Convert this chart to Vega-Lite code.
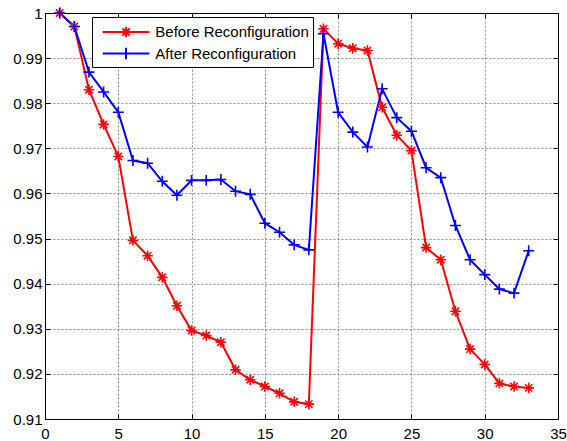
{
  "$schema": "https://vega.github.io/schema/vega-lite/v6.json",
  "width": 513,
  "height": 406,
  "autosize": {"type": "none"},
  "padding": {"left": 45, "top": 13, "right": 9, "bottom": 22},
  "background": "white",
  "config": {
    "view": {"stroke": "black", "strokeWidth": 1},
    "font": "Liberation Sans",
    "axis": {
      "labelFont": "Liberation Sans",
      "labelFontSize": 15,
      "labelColor": "black",
      "domainColor": "black",
      "tickColor": "black",
      "tickSize": -5,
      "gridColor": "#8a8a8a",
      "gridDash": [2, 2],
      "gridWidth": 1,
      "labelFlush": false,
      "labelOverlap": false,
      "title": null
    }
  },
  "data": {
    "values": [
      {"x": 1, "v": 1.0, "s": "Before Reconfiguration"},
      {"x": 2, "v": 0.997, "s": "Before Reconfiguration"},
      {"x": 3, "v": 0.983, "s": "Before Reconfiguration"},
      {"x": 4, "v": 0.9753, "s": "Before Reconfiguration"},
      {"x": 5, "v": 0.9682, "s": "Before Reconfiguration"},
      {"x": 6, "v": 0.9496, "s": "Before Reconfiguration"},
      {"x": 7, "v": 0.9462, "s": "Before Reconfiguration"},
      {"x": 8, "v": 0.9414, "s": "Before Reconfiguration"},
      {"x": 9, "v": 0.9351, "s": "Before Reconfiguration"},
      {"x": 10, "v": 0.9296, "s": "Before Reconfiguration"},
      {"x": 11, "v": 0.9285, "s": "Before Reconfiguration"},
      {"x": 12, "v": 0.927, "s": "Before Reconfiguration"},
      {"x": 13, "v": 0.9209, "s": "Before Reconfiguration"},
      {"x": 14, "v": 0.9187, "s": "Before Reconfiguration"},
      {"x": 15, "v": 0.9172, "s": "Before Reconfiguration"},
      {"x": 16, "v": 0.9157, "s": "Before Reconfiguration"},
      {"x": 17, "v": 0.9138, "s": "Before Reconfiguration"},
      {"x": 18, "v": 0.9133, "s": "Before Reconfiguration"},
      {"x": 19, "v": 0.9965, "s": "Before Reconfiguration"},
      {"x": 20, "v": 0.9932, "s": "Before Reconfiguration"},
      {"x": 21, "v": 0.9922, "s": "Before Reconfiguration"},
      {"x": 22, "v": 0.9917, "s": "Before Reconfiguration"},
      {"x": 23, "v": 0.9791, "s": "Before Reconfiguration"},
      {"x": 24, "v": 0.9729, "s": "Before Reconfiguration"},
      {"x": 25, "v": 0.9695, "s": "Before Reconfiguration"},
      {"x": 26, "v": 0.948, "s": "Before Reconfiguration"},
      {"x": 27, "v": 0.9453, "s": "Before Reconfiguration"},
      {"x": 28, "v": 0.9339, "s": "Before Reconfiguration"},
      {"x": 29, "v": 0.9255, "s": "Before Reconfiguration"},
      {"x": 30, "v": 0.9221, "s": "Before Reconfiguration"},
      {"x": 31, "v": 0.9179, "s": "Before Reconfiguration"},
      {"x": 32, "v": 0.9172, "s": "Before Reconfiguration"},
      {"x": 33, "v": 0.9169, "s": "Before Reconfiguration"},
      {"x": 1, "v": 1.0, "s": "After Reconfiguration"},
      {"x": 2, "v": 0.997, "s": "After Reconfiguration"},
      {"x": 3, "v": 0.9869, "s": "After Reconfiguration"},
      {"x": 4, "v": 0.9825, "s": "After Reconfiguration"},
      {"x": 5, "v": 0.978, "s": "After Reconfiguration"},
      {"x": 6, "v": 0.9673, "s": "After Reconfiguration"},
      {"x": 7, "v": 0.9667, "s": "After Reconfiguration"},
      {"x": 8, "v": 0.9627, "s": "After Reconfiguration"},
      {"x": 9, "v": 0.9596, "s": "After Reconfiguration"},
      {"x": 10, "v": 0.9629, "s": "After Reconfiguration"},
      {"x": 11, "v": 0.9629, "s": "After Reconfiguration"},
      {"x": 12, "v": 0.9631, "s": "After Reconfiguration"},
      {"x": 13, "v": 0.9605, "s": "After Reconfiguration"},
      {"x": 14, "v": 0.9598, "s": "After Reconfiguration"},
      {"x": 15, "v": 0.9534, "s": "After Reconfiguration"},
      {"x": 16, "v": 0.9514, "s": "After Reconfiguration"},
      {"x": 17, "v": 0.9486, "s": "After Reconfiguration"},
      {"x": 18, "v": 0.9475, "s": "After Reconfiguration"},
      {"x": 19, "v": 0.9954, "s": "After Reconfiguration"},
      {"x": 20, "v": 0.978, "s": "After Reconfiguration"},
      {"x": 21, "v": 0.9736, "s": "After Reconfiguration"},
      {"x": 22, "v": 0.9703, "s": "After Reconfiguration"},
      {"x": 23, "v": 0.9832, "s": "After Reconfiguration"},
      {"x": 24, "v": 0.9768, "s": "After Reconfiguration"},
      {"x": 25, "v": 0.9738, "s": "After Reconfiguration"},
      {"x": 26, "v": 0.9657, "s": "After Reconfiguration"},
      {"x": 27, "v": 0.9635, "s": "After Reconfiguration"},
      {"x": 28, "v": 0.9529, "s": "After Reconfiguration"},
      {"x": 29, "v": 0.9453, "s": "After Reconfiguration"},
      {"x": 30, "v": 0.942, "s": "After Reconfiguration"},
      {"x": 31, "v": 0.9388, "s": "After Reconfiguration"},
      {"x": 32, "v": 0.9379, "s": "After Reconfiguration"},
      {"x": 33, "v": 0.9473, "s": "After Reconfiguration"}
    ]
  },
  "layer": [
    {
      "mark": {"type": "line", "strokeWidth": 2},
      "encoding": {
        "x": {
          "field": "x", "type": "quantitative",
          "scale": {"domain": [0, 35], "nice": false, "zero": false},
          "axis": {"orient": "bottom", "values": [0, 5, 10, 15, 20, 25, 30, 35], "format": "d", "grid": true, "labelPadding": 12}
        },
        "y": {
          "field": "v", "type": "quantitative",
          "scale": {"domain": [0.91, 1], "nice": false, "zero": false},
          "axis": {"orient": "left", "values": [0.91, 0.92, 0.93, 0.94, 0.95, 0.96, 0.97, 0.98, 0.99, 1], "format": "~g", "grid": true, "labelPadding": 8}
        },
        "color": {
          "field": "s", "type": "nominal",
          "scale": {"domain": ["Before Reconfiguration", "After Reconfiguration"], "range": ["#ff0000", "#0000ff"]},
          "legend": {
            "orient": "none",
            "legendX": 47,
            "legendY": 4,
            "title": null,
            "strokeColor": "black",
            "fillColor": "white",
            "padding": 3.5,
            "labelFont": "Liberation Sans",
            "labelFontSize": 15,
            "labelColor": "black",
            "labelOffset": 36.8,
            "symbolSize": 441,
            "symbolStrokeWidth": 2,
            "rowPadding": 0.5,
            "encode": {
              "symbols": {
                "update": {
                  "shape": {"signal": "datum.value === 'Before Reconfiguration' ? 'M-0.41,0L4.03,0M1.81,-0.48L1.81,0.48M1.47,-0.34L2.15,0.34M1.47,0.34L2.15,-0.34' : 'M-0.41,0L4.03,0M1.81,-0.55L1.81,0.55'"}
                }
              }
            }
          }
        }
      }
    },
    {
      "transform": [{"filter": "datum.s === 'Before Reconfiguration'"}],
      "mark": {"type": "point", "filled": false, "strokeWidth": 1.6, "size": 110, "opacity": 1, "color": "#ff0000", "shape": "M-1,0L1,0M0,-1L0,1M-0.7,-0.7L0.7,0.7M-0.7,0.7L0.7,-0.7"},
      "encoding": {
        "x": {
          "field": "x", "type": "quantitative",
          "scale": {"domain": [0, 35], "nice": false, "zero": false},
          "axis": {"orient": "top", "values": [0, 5, 10, 15, 20, 25, 30, 35], "labels": false, "grid": false}
        },
        "y": {
          "field": "v", "type": "quantitative",
          "scale": {"domain": [0.91, 1], "nice": false, "zero": false},
          "axis": {"orient": "right", "values": [0.91, 0.92, 0.93, 0.94, 0.95, 0.96, 0.97, 0.98, 0.99, 1], "labels": false, "grid": false}
        }
      }
    },
    {
      "transform": [{"filter": "datum.s === 'After Reconfiguration'"}],
      "mark": {"type": "point", "filled": false, "strokeWidth": 1.6, "size": 120, "opacity": 1, "color": "#0000ff", "shape": "M-1,0L1,0M0,-1L0,1"},
      "encoding": {
        "x": {"field": "x", "type": "quantitative", "scale": {"domain": [0, 35], "nice": false, "zero": false}, "axis": null},
        "y": {"field": "v", "type": "quantitative", "scale": {"domain": [0.91, 1], "nice": false, "zero": false}, "axis": null}
      }
    }
  ],
  "resolve": {"axis": {"x": "independent", "y": "independent"}}
}
